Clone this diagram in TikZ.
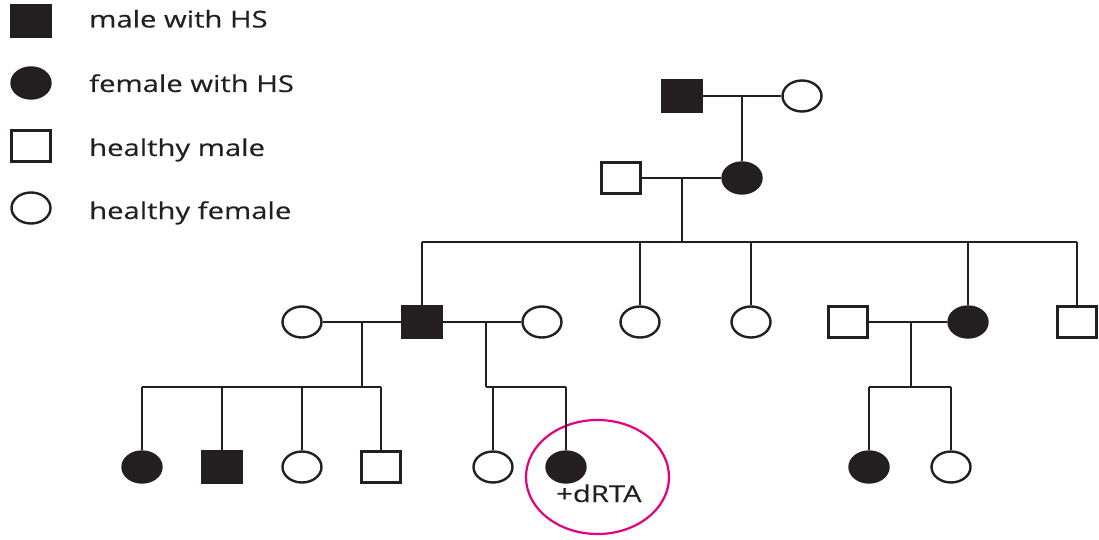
\documentclass[tikz,border=0pt]{standalone}
\usepackage{fontspec}
\setmainfont[FakeStretch=1.26,FakeBold=0.35]{Open Sans}
\usetikzlibrary{shapes.geometric}
\definecolor{ink}{HTML}{231F20}
\definecolor{hilite}{HTML}{E5007E}
\tikzset{
  sym/.style={draw=ink, line width=2.4pt, inner sep=0pt, minimum width=39pt, minimum height=31pt},
  male/.style={sym, rectangle, fill=white},
  female/.style={sym, ellipse, fill=white},
  aff/.style={fill=ink},
  lbl/.style={anchor=base west, inner sep=0pt, text=ink, font=\fontsize{23.2}{28}\selectfont},
  link/.style={draw=ink, line width=2.4pt}
}
\begin{document}
\begin{tikzpicture}[x=1pt,y=-1pt]
\useasboundingbox (0,0) rectangle (1099,540);
% legend
\node[male,aff] (L1) at (31,21) {};
\node[female,aff] (L2) at (31,83) {};
\node[male] (L3) at (31,146) {};
\node[female] (L4) at (31,208) {};
\node[lbl] (T1) at (89,27.5) {male with HS};
\node[lbl] (T2) at (89,92) {female with HS};
\node[lbl] (T3) at (89,156) {healthy male};
\node[lbl] (T4) at (89,219) {healthy female};
% highlight
\node[draw=hilite, line width=2.2pt, ellipse, minimum width=143pt, minimum height=114pt, inner sep=0pt] (hl) at (597.5,477) {};
% generation I
\node[male,aff] (I1) at (682,96) {};
\node[female] (I2) at (802,96) {};
% generation II
\node[male] (II1) at (621,178) {};
\node[female,aff] (II2) at (742,178) {};
% generation III
\node[female] (III1) at (302,322) {};
\node[male,aff] (III2) at (422,322) {};
\node[female] (III3) at (542,322) {};
\node[female] (III4) at (640,322) {};
\node[female] (III5) at (751,322) {};
\node[male] (III6) at (848,322) {};
\node[female,aff] (III7) at (968,322) {};
\node[male] (III8) at (1077,322) {};
% generation IV
\node[female,aff] (IV1) at (142,467) {};
\node[male,aff] (IV2) at (222,467) {};
\node[female] (IV3) at (302,467) {};
\node[male] (IV4) at (381,467) {};
\node[female] (IV5) at (493,467) {};
\node[female,aff] (IV6) at (566,467) {};
\node[female,aff] (IV7) at (869,467) {};
\node[female] (IV8) at (951,467) {};
\node[lbl] (dRTA) at (556,502) {+dRTA};
% coordinates
\coordinate (m1) at (742,96);
\coordinate (m2) at (682,178);
\coordinate (s2) at (682,242);
\coordinate (s2L) at (422,242);
\coordinate (s2R) at (1077,242);
\coordinate (m3a) at (362,322);
\coordinate (s3a) at (362,387);
\coordinate (s3aL) at (142,387);
\coordinate (s3aR) at (381,387);
\coordinate (m3b) at (486,322);
\coordinate (s3b) at (486,387);
\coordinate (s3bR) at (566,387);
\coordinate (m3c) at (911,322);
\coordinate (s3c) at (911,387);
\coordinate (s3cL) at (869,387);
\coordinate (s3cR) at (951,387);
% connectors
\begin{scope}[link]
\draw (I1.east) -- (I2.west);
\draw (m1) -- (II2.north);
\draw (II1.east) -- (II2.west);
\draw (m2) -- (s2);
\draw (s2L) -- (s2R);
\foreach \n in {III2,III4,III5,III7,III8} \draw (\n.north |- s2) -- (\n.north);
\draw (III1.east) -- (III2.west);
\draw (III2.east) -- (III3.west);
\draw (m3a) -- (s3a);
\draw (s3aL) -- (s3aR);
\foreach \n in {IV1,IV2,IV3,IV4} \draw (\n.north |- s3a) -- (\n.north);
\draw (m3b) -- (s3b);
\draw (s3b) -- (s3bR);
\foreach \n in {IV5,IV6} \draw (\n.north |- s3b) -- (\n.north);
\draw (III6.east) -- (III7.west);
\draw (m3c) -- (s3c);
\draw (s3cL) -- (s3cR);
\foreach \n in {IV7,IV8} \draw (\n.north |- s3c) -- (\n.north);
\end{scope}
\end{tikzpicture}
\end{document}
